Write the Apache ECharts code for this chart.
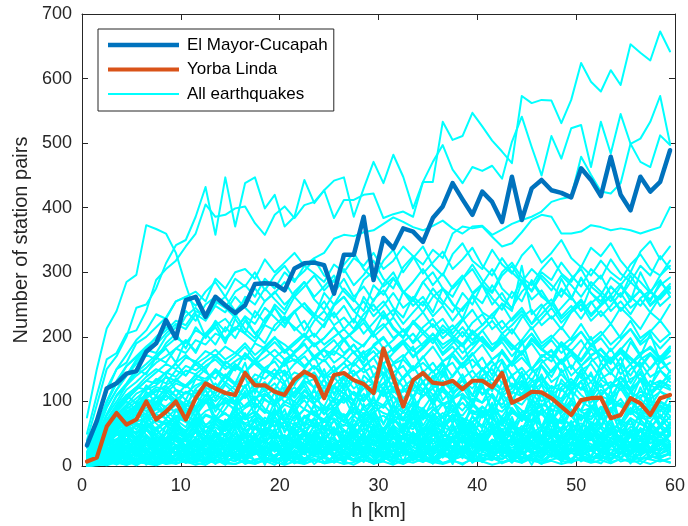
<!DOCTYPE html>
<html>
<head>
<meta charset="utf-8">
<script src="https://cdn.jsdelivr.net/npm/echarts@6/dist/echarts.min.js"></script>
<style>
  html, body { margin: 0; padding: 0; background: #fff; }
  #chart { width: 688px; height: 526px; }
</style>
</head>
<body>
<div id="chart"></div>
<script>
// Distance bins (km)
const h = [0.5,1.5,2.5,3.5,4.5,5.5,6.5,7.5,8.5,9.5,10.5,11.5,12.5,13.5,14.5,15.5,16.5,17.5,18.5,19.5,
  20.5,21.5,22.5,23.5,24.5,25.5,26.5,27.5,28.5,29.5,30.5,31.5,32.5,33.5,34.5,35.5,36.5,37.5,38.5,39.5,
  40.5,41.5,42.5,43.5,44.5,45.5,46.5,47.5,48.5,49.5,50.5,51.5,52.5,53.5,54.5,55.5,56.5,57.5,58.5,59.5];

const xTicks = [0, 10, 20, 30, 40, 50, 60];
const yTicks = [0, 100, 200, 300, 400, 500, 600, 700];

// Station pair counts per bin
const elMayor = [32,70,120,128,143,147,177,190,226,198,257,262,231,262,249,237,249,282,283,282,
  272,306,314,315,311,267,327,327,386,288,353,337,368,363,347,384,402,438,413,389,
  425,409,378,448,381,430,443,427,423,416,461,443,418,479,420,396,448,425,440,489];

const yorbaLinda = [7,13,61,82,64,72,100,72,84,100,72,105,128,120,113,110,144,125,125,115,
  110,134,146,138,105,141,144,133,127,113,182,137,92,133,144,129,127,132,119,132,
  132,122,144,98,105,115,114,105,92,79,102,105,106,74,79,105,97,79,105,110];

// Every other event
const allEarthquakes = [
  [75,150,213,240,285,296,373,367,360,330,280,235,200,215,190,228,205,240,222,250,235,262,245,230,268,250,275,258,240,280,265,290,270,255,285,300,275,262,290,305,280,268,295,310,285,272,300,288,315,295,278,305,290,320,298,285,310,295,325,305],
  [40,95,150,170,200,245,250,275,314,342,350,386,432,358,447,371,438,447,399,420,371,386,443,407,427,442,447,386,430,471,438,482,448,399,440,440,533,505,511,547,526,504,487,469,573,562,567,566,531,567,624,595,580,613,590,653,640,628,673,642],
  [50,110,165,175,205,210,240,288,305,318,340,360,405,386,389,399,402,376,358,389,402,384,404,409,427,384,412,412,420,422,384,390,394,386,440,471,497,459,438,463,457,465,445,502,541,494,450,511,476,523,528,463,533,484,545,499,471,463,512,497],
  [30,70,120,150,160,190,200,215,230,255,262,270,255,290,275,300,305,290,320,300,315,330,310,322,330,352,358,356,362,365,375,385,378,370,365,372,380,368,360,371,372,358,366,375,381,386,394,409,414,417,479,451,425,422,438,499,507,533,573,499],
  [20,60,100,130,140,165,180,175,200,215,240,225,250,262,245,270,280,262,290,275,300,285,310,298,285,312,300,322,310,330,305,318,340,325,312,335,322,360,371,368,371,355,340,345,362,381,389,386,360,360,363,373,370,365,368,365,360,365,370,401],
  [28,72,115,150,172,195,210,235,228,255,262,248,270,285,262,290,278,300,272,295,310,288,302,320,295,285,312,330,305,290,318,335,300,322,340,310,295,328,345,318,305,335,312,298,326,342,315,330,350,322,308,338,325,345,318,300,332,348,320,340],
  [22,58,98,128,155,168,182,200,215,205,232,245,228,250,262,240,258,275,255,268,285,262,278,295,272,288,305,280,296,318,290,275,308,325,298,315,332,305,320,338,310,295,322,300,285,305,290,272,295,280,262,285,270,255,278,262,248,270,258,275],
  [18,50,92,118,140,162,175,188,205,220,212,235,225,248,238,262,245,230,255,270,250,265,285,258,242,268,290,262,278,255,282,300,270,258,285,265,250,278,295,268,282,305,275,260,288,270,295,280,262,290,305,278,265,292,280,300,285,268,295,310],
  [15,45,80,108,125,145,158,172,185,198,190,210,202,218,228,210,232,220,245,230,215,240,252,235,225,250,262,240,255,232,248,268,245,258,238,262,275,250,240,265,252,280,258,245,270,285,262,250,272,260,290,268,255,278,262,285,270,258,280,292],
  [12,40,72,95,118,130,145,160,170,182,175,195,188,205,198,215,205,192,218,210,228,215,200,225,240,218,230,212,235,250,228,242,220,238,255,232,248,225,245,262,238,228,252,240,310,235,250,228,245,262,240,255,232,248,268,245,258,238,262,275],
  [10,35,62,85,102,118,132,145,158,150,168,162,178,170,185,175,165,190,182,198,188,175,195,205,188,200,212,195,185,208,220,198,210,192,215,228,205,218,200,222,235,212,225,205,230,242,218,232,212,238,250,225,240,220,245,230,212,238,225,250],
  [14,42,70,92,110,122,138,150,142,160,172,158,168,180,165,175,190,172,185,200,178,192,205,188,198,215,195,208,222,200,215,230,208,222,238,215,228,205,225,242,218,235,250,225,240,220,245,258,232,248,228,252,265,240,255,235,260,272,248,262],
  [8,30,55,75,92,105,118,125,138,132,148,142,155,165,150,162,172,158,168,180,165,175,188,170,182,195,175,188,168,185,198,178,192,205,185,198,175,190,208,188,200,182,195,212,190,205,185,198,215,195,208,188,202,220,198,212,192,208,225,205],
  [12,38,60,80,95,112,120,132,145,138,155,148,162,172,158,170,185,165,178,192,175,188,202,185,198,215,195,210,228,205,235,212,198,222,205,190,212,198,185,205,192,178,200,185,172,195,180,168,188,175,162,182,170,158,178,165,152,172,160,178],
  [6,28,50,68,82,95,108,118,112,128,122,135,130,145,138,152,145,160,150,142,158,165,152,170,162,178,168,155,175,185,170,182,195,178,190,205,188,198,215,195,210,225,205,218,235,212,228,245,222,238,255,232,248,262,240,258,272,250,265,282],
  [10,32,55,72,88,100,110,122,118,132,125,140,135,148,128,155,142,130,152,162,140,158,170,150,165,145,160,178,155,168,182,160,172,150,168,185,162,175,155,172,188,165,178,158,175,190,168,180,160,178,195,170,182,165,180,198,172,185,168,182],
  [7,25,45,62,75,85,98,105,118,108,125,112,128,120,138,125,145,130,118,140,148,128,142,155,135,148,160,140,152,168,142,158,135,150,170,145,160,138,158,175,148,162,142,160,178,150,165,145,162,180,155,168,148,165,182,158,170,150,168,185],
  [5,22,40,55,68,80,90,98,110,95,115,105,122,112,130,118,108,128,120,140,125,112,135,145,122,138,118,142,152,128,145,120,138,155,130,148,122,140,160,135,150,125,145,162,138,152,128,148,165,140,155,130,150,168,142,158,132,152,170,145],
  [9,30,52,70,80,92,105,115,125,135,122,142,130,150,138,158,145,165,150,140,162,172,155,168,180,160,172,188,165,178,158,175,190,168,182,198,172,185,165,182,200,178,192,170,188,205,180,195,175,190,208,185,198,178,195,212,188,200,182,198],
  [6,20,38,52,60,68,75,82,90,85,95,88,102,92,98,108,90,105,112,95,108,100,118,98,110,122,102,115,105,125,108,118,100,120,128,110,122,105,118,130,112,125,108,120,132,115,128,110,122,135,118,130,112,125,138,120,132,115,128,140],
  [12,40,68,88,105,118,132,128,145,158,140,162,150,170,155,148,175,160,182,168,155,178,190,165,180,172,195,175,160,188,200,178,192,170,185,205,182,195,175,190,210,188,198,180,195,215,190,202,185,198,220,195,208,188,202,225,198,210,192,205],
  [8,28,50,65,78,88,95,108,102,118,112,125,132,118,138,128,122,142,135,150,130,145,138,155,142,135,152,160,145,155,140,158,165,148,160,145,162,170,152,165,148,165,175,155,168,150,170,178,158,172,155,172,180,162,175,158,175,182,165,178],
  [6,22,42,58,68,75,82,90,85,98,92,105,98,110,102,95,112,105,118,100,110,122,105,115,108,125,112,102,120,128,110,122,115,130,108,120,132,115,125,110,128,135,118,125,112,130,138,120,128,115,132,140,122,130,118,135,142,125,132,120],
  [1,4,8,12,15,10,18,14,9,16,20,13,8,15,19,11,17,22,14,9,16,21,12,18,24,15,10,19,23,14,20,12,17,25,16,11,21,15,26,18,12,20,24,15,10,19,22,14,18,25,16,12,21,17,23,14,19,26,15,20],
  [2,7,14,20,25,18,28,22,30,19,26,33,21,28,17,30,24,35,22,29,18,31,26,20,34,25,30,21,36,27,19,32,24,38,28,22,33,26,20,35,29,24,37,23,31,27,40,25,33,21,36,28,24,39,30,22,35,27,41,29],
  [3,10,20,28,35,26,38,30,42,32,25,40,33,45,28,36,44,30,38,26,42,35,48,31,40,29,45,37,33,50,36,28,43,38,52,34,41,30,47,39,35,53,40,32,46,37,55,42,34,48,38,44,31,50,41,36,54,43,38,49],
  [5,14,26,35,42,38,48,36,52,44,40,55,46,38,58,45,50,41,60,48,43,56,39,52,62,47,55,44,58,50,42,63,51,46,59,48,54,40,61,53,47,65,52,44,58,49,62,46,55,66,50,57,45,60,52,48,67,54,50,63],
  [6,18,32,42,50,45,58,48,62,55,46,65,52,60,48,68,55,62,50,70,58,52,66,60,72,54,64,58,75,62,55,70,63,57,78,65,60,73,56,68,80,62,70,58,75,66,82,60,72,65,78,68,62,85,70,64,76,68,88,72],
  [8,22,38,50,58,52,66,58,72,62,55,75,64,70,58,78,66,72,60,82,70,64,76,85,68,74,62,80,88,72,78,66,84,75,90,70,82,74,68,86,78,92,72,84,76,95,80,70,88,82,74,92,78,86,98,80,88,75,94,84],
  [0,2,5,7,4,9,6,3,8,11,5,7,10,4,9,12,6,3,10,8,13,5,9,11,4,7,14,8,10,5,12,9,6,13,8,11,4,10,15,7,9,12,6,11,14,8,5,10,13,7,12,9,15,6,11,8,13,10,7,12],
  [1,5,10,15,12,18,14,20,16,11,22,17,13,24,19,15,21,26,18,14,23,20,27,16,22,19,25,15,28,21,17,24,20,29,23,18,26,22,30,19,25,21,28,24,18,27,23,31,20,26,22,29,25,19,32,24,21,28,26,30],
  [7,20,35,48,55,62,58,70,64,76,68,60,78,72,82,66,75,85,70,62,80,74,88,78,68,84,76,90,72,82,95,78,70,88,80,92,75,85,98,82,76,90,84,100,78,88,80,95,86,102,84,76,92,88,104,82,94,86,98,90],
  [9,25,42,55,65,72,68,80,74,88,78,70,85,92,80,75,90,98,84,78,95,88,102,82,92,86,105,95,80,98,90,108,85,96,88,110,94,100,86,104,98,112,90,102,95,115,92,105,98,118,100,90,108,102,120,96,110,104,115,108],
  [2,8,16,22,28,20,32,25,18,30,24,35,27,20,33,26,38,22,30,25,36,29,21,34,28,40,24,32,27,38,31,23,36,30,42,26,34,29,39,33,25,41,35,28,37,31,44,27,36,32,40,34,26,43,38,30,39,35,46,33],
  [10,28,48,62,72,80,75,88,82,95,86,78,98,90,102,85,94,108,88,80,100,92,110,95,86,105,98,115,90,102,94,118,100,92,108,120,96,104,112,98,122,106,95,115,108,125,100,112,104,128,110,98,118,108,130,105,115,110,125,118],
  [4,12,22,30,36,32,40,34,44,38,30,42,36,46,40,33,48,42,36,50,44,38,52,40,46,54,42,48,38,52,46,56,44,50,40,55,48,42,58,50,45,54,47,60,49,44,56,51,46,58,52,48,62,50,55,45,58,53,48,60],
  [11,32,55,70,82,90,85,98,92,105,96,88,110,100,115,95,108,120,102,94,116,106,124,98,112,104,128,110,100,122,114,130,105,118,108,126,115,102,120,132,110,122,112,128,118,135,108,124,116,130,120,112,134,122,128,115,132,125,118,136],
  [3,11,20,26,32,28,36,30,38,33,27,40,34,30,42,36,28,44,38,32,46,40,34,48,37,42,33,50,39,45,36,52,41,47,35,50,43,38,54,44,40,52,46,37,55,48,42,56,45,50,39,57,47,43,58,49,53,41,60,50],
  [12,35,58,72,85,92,100,95,108,102,115,108,98,118,112,125,105,118,130,112,122,108,128,135,115,125,140,120,132,110,128,142,122,135,118,138,148,125,132,120,140,150,128,138,122,145,155,130,142,125,148,158,135,145,128,150,160,138,148,135],
  [0,1,3,5,2,6,4,8,3,5,7,2,6,9,4,3,8,5,10,6,2,7,4,9,5,8,3,6,10,4,7,2,9,5,11,6,3,8,4,10,7,2,6,9,5,12,4,8,3,7,10,5,9,4,11,6,8,3,10,5],
  [1,6,12,17,13,20,15,9,18,22,14,19,11,24,16,21,13,18,26,15,20,12,23,17,27,14,19,22,16,28,18,13,25,20,15,29,21,17,24,14,27,19,23,16,30,20,25,15,22,28,18,24,14,26,21,17,29,23,19,25],
  [2,9,18,25,30,22,35,28,20,33,26,38,24,31,36,22,29,40,27,33,24,37,30,26,41,28,35,23,39,32,27,43,30,36,25,40,34,28,44,31,37,26,42,35,29,45,33,38,27,43,36,30,46,34,39,28,44,37,32,47],
  [3,12,24,32,40,35,44,38,30,46,40,52,36,45,38,50,43,35,54,42,48,37,55,44,40,57,46,51,39,58,47,43,56,49,38,59,48,44,60,50,41,57,52,46,62,49,55,43,60,53,47,63,51,56,45,61,54,49,64,52],
  [5,16,30,40,48,42,55,46,38,58,50,44,62,52,47,65,55,42,60,53,68,48,58,64,50,70,56,45,66,59,52,72,57,62,49,70,60,54,74,58,64,51,75,61,56,72,63,53,77,60,66,55,78,62,58,74,65,57,80,64],
  [0,3,7,10,6,12,9,5,13,8,15,10,6,14,11,7,16,9,13,6,17,11,8,15,12,7,18,10,14,8,19,12,9,16,13,7,20,11,15,9,18,13,10,21,12,16,8,19,14,11,22,13,17,9,20,15,10,23,14,18],
  [6,20,36,48,56,50,62,55,68,58,52,70,60,65,54,72,64,58,75,62,68,57,78,66,60,80,68,63,82,70,58,76,72,65,84,70,62,80,74,68,86,72,64,82,76,70,88,74,66,84,78,72,90,76,68,86,80,74,92,78],
  [8,24,40,52,60,66,62,72,65,78,70,64,80,74,68,84,72,78,66,86,76,70,88,80,72,90,78,84,74,92,82,76,94,80,86,75,96,84,78,98,82,88,76,100,86,80,96,88,82,102,85,90,80,98,92,84,104,88,94,86],
  [0,10,25,8,30,15,42,12,35,20,48,14,38,22,50,10,33,45,18,40,12,36,52,20,44,16,38,55,22,41,14,47,26,53,18,39,60,24,45,15,42,28,56,19,48,30,58,21,43,35,62,25,50,17,46,33,59,27,52,38],
  [2,18,6,28,12,36,20,8,32,45,16,30,9,40,24,52,14,35,26,48,11,38,22,55,30,13,44,27,50,19,36,58,23,42,15,49,31,62,20,40,28,54,17,46,34,60,25,39,14,51,37,65,22,44,30,57,19,48,36,53],
  [1,6,15,4,20,9,26,5,18,30,11,24,7,28,16,34,8,22,31,13,27,6,33,19,38,10,25,36,14,29,9,35,21,40,12,27,38,16,31,8,36,23,42,13,28,39,17,33,10,37,24,44,15,30,41,19,34,11,38,26],
  [4,22,40,28,55,35,62,30,50,70,38,58,32,66,45,74,36,60,48,78,40,64,52,35,72,46,80,42,68,55,38,75,50,84,44,62,76,48,70,40,82,56,66,45,78,58,88,50,72,42,80,62,90,52,70,48,85,60,76,55],
  [0,4,9,2,12,6,15,3,10,18,5,13,8,20,4,16,11,22,7,14,3,19,10,24,6,15,21,8,17,5,23,12,26,9,18,4,20,14,27,7,16,22,10,25,5,19,13,28,8,21,15,6,24,11,29,9,18,26,12,20],
  [6,28,50,38,66,48,78,55,42,72,60,88,52,76,64,92,58,80,46,85,68,95,62,74,54,90,70,100,60,82,66,96,55,86,72,104,64,80,58,98,75,88,62,106,70,84,92,66,100,78,58,94,82,108,68,90,76,102,64,88],
  [1,8,20,12,30,18,38,14,26,40,20,34,10,36,24,44,16,30,42,22,35,12,40,28,46,18,32,25,45,15,38,30,48,20,34,42,16,40,26,50,22,36,14,44,30,48,24,38,18,46,32,52,20,40,28,47,16,42,34,50],
  [8,32,58,70,52,84,66,95,72,60,90,78,104,68,88,110,75,96,82,115,70,100,88,120,80,94,108,76,112,90,122,84,100,72,118,96,125,86,106,92,128,80,110,98,130,88,114,76,120,102,132,90,108,84,126,100,135,92,116,104],
  [2,12,28,18,40,24,48,20,35,52,28,44,16,50,32,58,22,42,36,55,26,48,18,54,38,60,30,45,24,57,40,62,28,50,34,58,22,46,40,64,30,52,26,60,44,66,32,48,38,62,28,56,42,68,34,50,30,64,46,58],
  [0,5,12,7,16,4,20,10,24,8,18,26,6,21,14,28,9,19,25,11,30,15,7,23,17,32,12,27,20,8,29,16,34,10,22,31,13,26,18,35,9,24,30,14,33,19,11,28,22,36,15,25,12,32,20,38,16,27,23,34],
  [3,16,34,24,48,30,56,38,26,52,42,62,32,50,40,66,35,58,45,70,38,54,28,64,48,72,36,60,44,75,40,58,50,78,34,62,54,80,42,68,48,82,38,64,56,85,44,70,52,88,46,66,58,90,50,72,42,84,60,76],
  [1,7,16,10,22,14,28,9,20,32,12,25,18,34,11,27,21,36,15,29,8,31,19,38,13,26,33,17,40,22,14,35,24,41,16,30,37,20,43,12,28,39,23,44,18,32,26,46,15,36,29,48,21,34,42,19,45,25,38,31],
  [10,36,62,80,68,95,78,108,86,72,102,92,118,84,106,96,125,88,112,100,130,92,116,104,135,98,120,86,128,110,140,95,118,106,132,100,145,112,124,96,138,116,148,102,126,114,142,108,150,120,130,104,146,118,155,112,136,124,148,130],
  [0,2,6,3,8,1,10,5,12,4,9,14,2,11,7,15,3,10,13,6,16,4,12,8,17,5,14,9,18,3,11,15,7,19,10,4,16,12,20,6,13,9,18,5,21,11,8,17,14,22,7,15,10,19,12,23,9,16,13,20],
  [5,20,42,30,58,40,68,45,35,62,50,75,42,66,55,80,46,70,38,76,60,84,48,72,56,88,44,78,64,90,52,74,60,92,48,82,66,95,54,76,62,98,50,86,70,100,58,80,66,104,55,90,74,106,62,84,70,108,60,94],
  [10,40,70,92,110,96,125,108,140,118,102,135,150,120,142,128,160,112,148,135,165,125,150,170,138,155,122,162,178,140,158,132,168,185,145,160,138,175,190,152,168,140,180,158,195,148,172,162,188,150,178,200,160,182,155,192,170,205,162,185],
  [14,50,90,118,140,158,172,165,190,205,182,215,198,225,208,235,212,198,228,245,220,238,252,230,215,248,262,240,225,258,272,245,230,262,248,275,255,238,268,250,282,260,242,270,255,288,265,248,275,258,292,268,250,278,262,295,270,255,285,268],
  [12,42,78,100,125,140,152,168,160,182,195,175,205,188,215,198,225,205,190,218,232,210,225,200,220,238,212,228,205,222,240,215,200,225,210,195,218,202,188,210,195,180,205,188,175,198,182,170,192,178,165,188,172,160,182,168,155,175,162,170],
  [9,30,55,72,85,78,98,88,110,95,82,105,118,92,112,100,125,90,108,120,98,115,130,105,92,122,112,135,100,118,128,108,95,125,115,140,102,120,132,110,98,128,118,142,105,124,135,112,100,130,120,145,108,126,138,115,104,132,122,148],
  [16,55,100,132,155,170,185,198,210,225,218,240,232,255,245,230,262,250,275,258,242,270,285,262,278,295,270,255,288,302,278,292,268,285,305,280,298,275,290,312,288,270,300,315,292,280,305,322,298,285,310,295,318,300,288,312,328,305,295,318],
  [0,8,18,30,14,36,22,44,10,28,40,18,46,26,12,38,30,50,20,34,8,42,28,52,16,36,24,48,12,40,32,54,22,44,14,50,36,26,56,18,42,30,58,20,46,34,16,52,38,60,24,44,30,56,18,48,40,62,26,50],
  [3,15,30,52,26,44,18,60,34,48,22,56,40,28,64,36,50,20,58,42,70,30,48,38,62,24,54,44,72,32,58,26,66,46,38,74,30,56,50,68,28,62,42,76,36,54,46,80,34,64,52,40,78,48,58,32,72,56,44,68],
  [7,26,46,60,72,56,80,66,52,86,70,92,62,78,58,95,74,84,64,100,70,88,60,96,80,104,68,90,76,108,64,94,82,110,72,86,98,66,112,80,92,74,115,84,70,102,90,118,76,96,86,120,72,106,94,82,122,88,100,92],
  [0,3,10,18,8,22,13,27,6,19,30,11,24,16,33,9,21,28,14,35,7,25,18,31,12,36,20,10,29,23,38,15,26,8,33,19,40,13,28,22,37,11,31,17,42,24,14,35,27,44,16,30,21,39,12,34,25,46,18,32],
  [10,45,80,110,128,150,142,168,182,160,195,178,205,222,195,212,230,205,220,245,225,240,210,235,255,230,248,222,262,240,255,232,270,248,262,238,275,252,228,265,280,250,268,242,285,258,272,248,290,262,240,278,295,265,282,255,300,270,288,262],
  [8,36,66,90,108,122,118,135,128,148,140,158,145,135,162,150,172,158,145,168,180,162,175,190,168,182,198,175,188,205,182,195,212,190,205,220,198,212,228,205,218,235,212,228,245,220,235,252,228,242,258,235,250,265,242,256,272,248,262,278],
  [10,34,58,78,92,86,104,96,115,102,92,118,108,128,112,100,124,135,115,128,108,132,142,120,134,112,138,148,125,140,118,145,155,130,142,122,150,160,135,148,128,155,165,140,152,132,160,170,145,156,136,162,172,148,158,140,165,175,150,160],
  [0,12,4,20,8,26,2,18,30,6,24,12,34,4,22,38,10,28,2,32,16,40,6,26,14,36,3,30,20,42,8,24,34,12,44,4,28,38,15,46,6,32,20,42,10,36,26,48,5,30,40,14,50,8,34,22,46,12,38,28],
  [1,14,30,16,40,22,48,28,14,44,32,54,20,46,36,58,24,42,12,50,34,60,26,44,18,56,38,64,22,48,30,62,16,52,40,66,28,46,20,60,42,70,32,54,24,64,36,72,26,50,44,68,30,58,38,74,22,56,46,66],
  [0,4,14,6,18,2,12,22,5,16,26,8,20,3,24,14,30,7,19,28,10,23,4,27,16,32,9,21,29,12,34,6,25,18,36,11,27,3,31,20,38,13,26,8,33,22,40,15,29,6,35,24,42,10,30,18,44,14,36,22],
  [5,24,46,34,62,42,70,50,38,66,54,80,44,72,58,86,48,74,62,90,52,78,66,94,56,82,70,98,60,84,50,92,74,102,62,88,76,106,58,94,80,110,66,90,72,112,60,96,84,116,70,92,78,118,64,100,86,120,74,98],
  [0,6,18,10,26,4,22,34,12,28,6,32,20,40,8,30,24,44,14,36,4,38,26,46,16,34,10,42,28,50,18,38,6,44,30,52,20,40,12,48,32,54,22,42,8,50,34,58,24,44,14,52,36,60,26,46,16,54,38,48],
  [2,10,24,36,18,42,28,12,38,50,22,44,30,56,16,40,48,26,58,34,20,52,40,62,28,46,18,56,36,64,24,50,42,68,30,14,54,38,66,26,48,58,34,70,22,52,44,72,32,56,20,62,46,74,36,54,28,68,50,60],
  [0,2,8,14,4,16,7,20,3,12,18,6,22,10,2,19,13,24,5,17,26,9,21,3,15,27,11,23,6,28,14,4,25,18,30,8,20,12,31,5,22,16,33,10,26,2,29,19,34,7,24,14,36,11,28,4,32,20,38,16],
  [4,20,38,56,40,66,48,30,62,74,44,68,52,36,72,58,82,46,70,60,88,42,76,64,92,50,80,56,96,66,48,86,72,100,54,78,62,104,70,52,92,80,108,58,84,68,112,74,56,96,86,114,62,90,76,118,70,100,84,110],
  [1,9,22,14,32,20,10,28,38,16,30,24,42,12,34,26,46,18,36,8,40,30,48,20,38,14,44,32,52,22,40,16,50,34,54,24,42,12,48,36,56,26,44,18,52,38,58,28,46,20,54,40,60,30,48,22,56,42,62,34],
  [6,30,55,78,60,90,72,100,80,64,96,84,110,74,98,88,116,78,104,92,120,82,108,96,124,86,112,100,128,90,116,80,122,104,132,94,118,108,136,98,124,86,130,112,140,100,126,92,134,116,144,104,128,96,138,120,146,108,132,124],
  [0,3,1,6,2,8,4,1,7,3,9,5,2,10,6,3,11,4,8,2,12,6,3,9,5,13,7,2,10,4,14,8,3,11,6,15,5,9,2,12,7,16,4,10,6,13,3,17,8,5,14,9,4,18,7,11,3,15,10,6],
  [3,18,36,24,50,30,60,40,26,56,44,66,34,54,22,62,46,70,36,58,28,68,50,74,40,60,30,72,52,78,42,64,32,76,56,80,44,66,34,78,58,84,46,68,38,82,60,88,48,70,40,86,62,90,50,72,42,88,64,76],
  [8,34,62,84,100,88,115,98,124,108,92,120,132,104,126,112,138,100,128,118,145,106,132,122,150,110,136,96,140,126,155,114,138,104,148,130,158,118,142,108,152,134,162,120,146,112,156,138,165,124,150,116,160,142,168,128,152,120,164,146]
];

const FONT = "'Liberation Sans', Arial, Helvetica, sans-serif";
const INK = '#262626';
const CYAN = '#00FFFF', BLUE = '#0072BD', ORANGE = '#D95319';

const toPoints = vals => h.map((x, i) => [x, vals[i]]);

const lineSeries = (name, vals, color, width) => ({
  type: 'line', name, data: toPoints(vals), symbol: 'none', silent: true,
  lineStyle: { color, width, join: 'round', cap: 'round' },
  itemStyle: { color }, emphasis: { disabled: true }
});

const series = allEarthquakes.map(v => lineSeries('All earthquakes', v, CYAN, 2));
series.push(lineSeries('Yorba Linda', yorbaLinda, ORANGE, 4.2));
series.push(lineSeries('El Mayor-Cucapah', elMayor, BLUE, 4.5));

const xRange = { min: xTicks[0], max: xTicks[xTicks.length - 1], interval: xTicks[1] - xTicks[0] };
const yRange = { min: yTicks[0], max: yTicks[yTicks.length - 1], interval: yTicks[1] - yTicks[0] };

const axisBase = {
  type: 'value',
  axisLine: { show: true, onZero: false, lineStyle: { color: INK, width: 1 } },
  axisTick: { show: true, inside: true, length: 6, lineStyle: { color: INK, width: 1 } },
  splitLine: { show: false }
};

const chart = echarts.init(document.getElementById('chart'), null, { renderer: 'canvas' });
chart.setOption({
  animation: false,
  backgroundColor: '#fff',
  grid: { left: 82, top: 14, width: 596, height: 452, containLabel: false },
  xAxis: [
    Object.assign({}, axisBase, xRange, {
      position: 'bottom',
      axisLabel: { color: INK, fontSize: 18, fontFamily: FONT, margin: 11 },
      name: 'h [km]', nameLocation: 'middle', nameGap: 35,
      nameTextStyle: { color: INK, fontSize: 20, fontFamily: FONT }
    }),
    Object.assign({}, axisBase, xRange, { position: 'top', axisLabel: { show: false } })
  ],
  yAxis: [
    Object.assign({}, axisBase, yRange, {
      position: 'left',
      axisLabel: { color: INK, fontSize: 18, fontFamily: FONT, margin: 10 },
      name: 'Number of station pairs', nameLocation: 'middle', nameGap: 50,
      nameTextStyle: { color: INK, fontSize: 20, fontFamily: FONT }
    }),
    Object.assign({}, axisBase, yRange, { position: 'right', axisLabel: { show: false } })
  ],
  legend: {
    orient: 'vertical', left: 98, top: 29,
    padding: [6, 6, 7, 10],
    itemWidth: 71, itemHeight: 20, itemGap: 4.5,
    backgroundColor: '#fff', borderColor: INK, borderWidth: 1,
    selectedMode: false,
    textStyle: { fontSize: 17, fontFamily: FONT, color: '#000', lineHeight: 20, padding: [0, 0, 0, 3] },
    data: [
      { name: 'El Mayor-Cucapah', icon: 'path://M0,0H71V4.5H0Z', itemStyle: { color: BLUE, borderWidth: 0 } },
      { name: 'Yorba Linda', icon: 'path://M0,0H71V4.2H0Z', itemStyle: { color: ORANGE, borderWidth: 0 } },
      { name: 'All earthquakes', icon: 'path://M0,0H71V2H0Z', itemStyle: { color: CYAN, borderWidth: 0 } }
    ]
  },
  series
});
</script>
</body>
</html>
